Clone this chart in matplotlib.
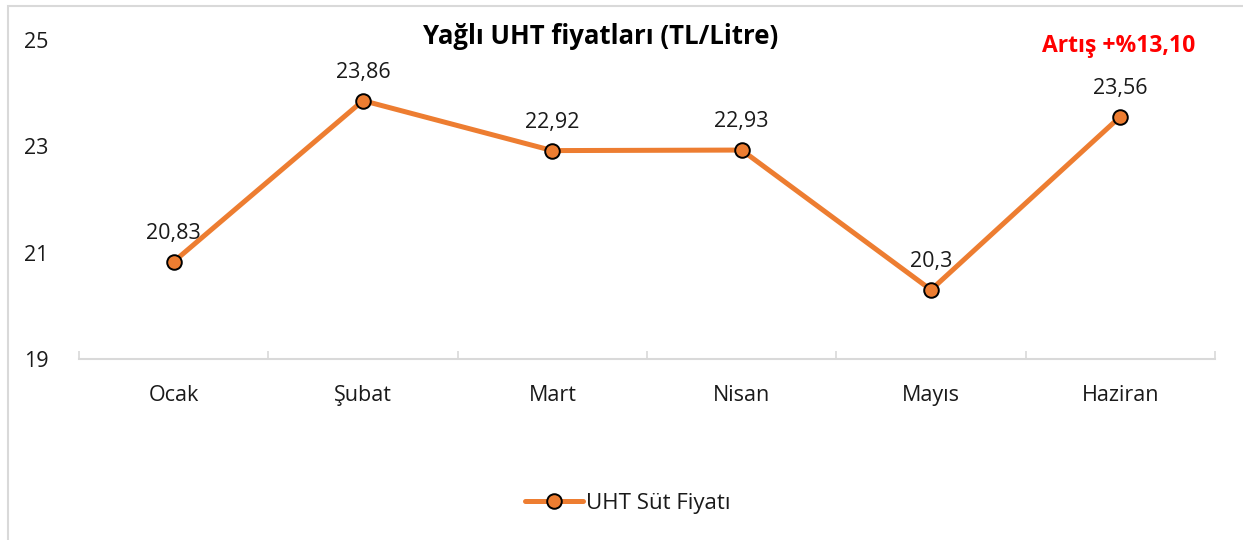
import matplotlib
matplotlib.use("Agg")
import matplotlib.pyplot as plt
from matplotlib.patches import Rectangle

months = ["Ocak", "Şubat", "Mart", "Nisan", "Mayıs", "Haziran"]
prices = [20.83, 23.86, 22.92, 22.93, 20.3, 23.56]
labels = ["20,83", "23,86", "22,92", "22,93", "20,3", "23,56"]
yticks = [19, 21, 23, 25]
series_name = "UHT Süt Fiyatı"
title = "Yağlı UHT fiyatları (TL/Litre)"
note = "Artış +%13,10"

plt.rcParams['font.family'] = ['Open Sans', 'DejaVu Sans']

fig = plt.figure(figsize=(12.43, 5.40), dpi=100)
fig.patch.set_facecolor("white")
fig.patches.append(Rectangle((8/1243, -0.1), 1.2, 1.1 - 6/540, transform=fig.transFigure,
                             fill=False, edgecolor="#D9D9D9", linewidth=1.5))

ax = fig.add_axes([79/1243, 1-359/540, (1215-79)/1243, (359-40)/540])
x = list(range(len(months)))
orange = "#ED7D31"
line, = ax.plot(x, prices, color=orange, linewidth=3.6, marker="o", markersize=10.5,
                markerfacecolor=orange, markeredgecolor="black", markeredgewidth=1.4,
                label=series_name, solid_capstyle="round", zorder=3)

for xi, yi, lab in zip(x, prices, labels):
    ax.annotate(lab, (xi, yi), xytext=(0, 13), textcoords="offset points",
                ha="center", va="bottom", fontsize=15.5, color="#1a1a1a")

ax.set_xlim(-0.5, len(months) - 0.5)
ax.set_ylim(19, 25)
ax.set_yticks(yticks)
ax.set_yticklabels([str(t) for t in yticks], fontsize=15.5, color="#1a1a1a")
ax.set_xticks(x)
ax.set_xticklabels(months, fontsize=15.5, color="#1a1a1a")
ax.set_xticks([i - 0.5 for i in range(len(months) + 1)], minor=True)
ax.tick_params(axis="x", which="major", length=0, pad=19)
ax.tick_params(axis="x", which="minor", length=6, color="#D9D9D9", width=1.2, direction="in")
ax.tick_params(axis="y", length=0, pad=22)
for s in ["top", "right", "left"]:
    ax.spines[s].set_visible(False)
ax.spines["bottom"].set_color("#D9D9D9")
ax.spines["bottom"].set_linewidth(1.5)
ax.patch.set_alpha(0)

fig.text(601/1243, 1-37/540, title, ha="center", va="center", fontsize=18.5, fontweight="bold", color="black")
fig.text(1119/1243, 1-46/540, note, ha="center", va="center", fontsize=16.5, fontweight="bold", color="red")

fig.legend(handles=[line], loc="center", bbox_to_anchor=(628/1243, 1-503/540), frameon=False,
           fontsize=16, handlelength=2.6, handletextpad=0.15, labelcolor="#1a1a1a")

fig.savefig("out.png", dpi=100, facecolor="white")
